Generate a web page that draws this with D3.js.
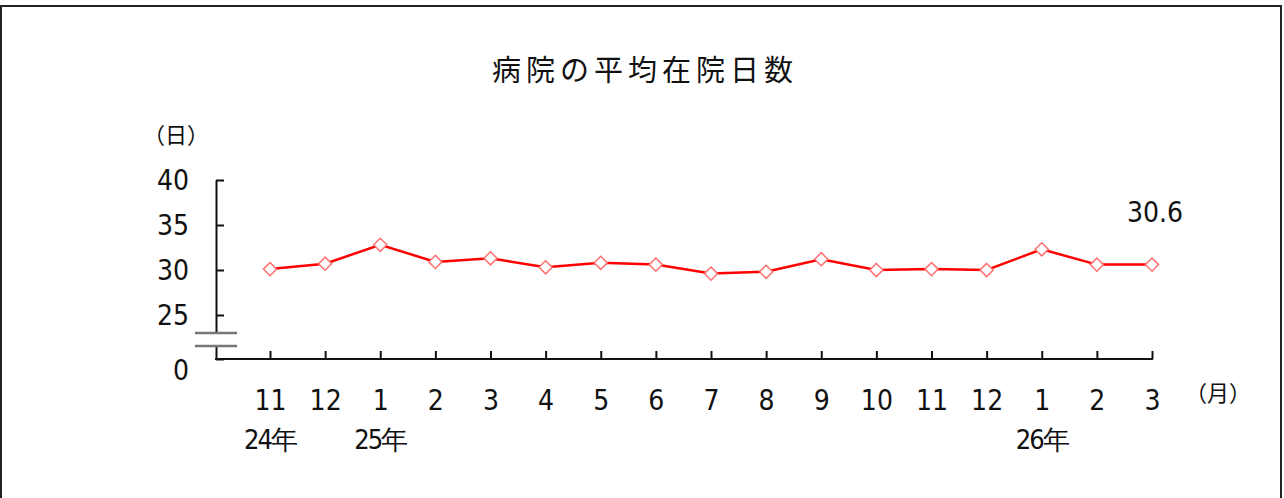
<!DOCTYPE html>
<html>
<head>
<meta charset="utf-8">
<script src="https://cdn.jsdelivr.net/npm/d3@7"></script>
<style>
  body { margin: 0; background: #fff; }
  .num { font-family: "Liberation Sans Narrow", "DejaVu Sans Condensed", "Liberation Sans", sans-serif; fill: #111; }
  .jp { font-family: "Noto Sans CJK JP", sans-serif; fill: #111; }
</style>
</head>
<body>
<svg id="chart" width="1284" height="498"></svg>
<script>
// data
var months = ["11", "12", "1", "2", "3", "4", "5", "6", "7", "8", "9", "10", "11", "12", "1", "2", "3"];
var years = ["24年", "", "25年", "", "", "", "", "", "", "", "", "", "", "", "26年", "", ""];
var days = [30.1, 30.7, 32.8, 30.9, 31.3, 30.3, 30.8, 30.6, 29.6, 29.8, 31.2, 30.0, 30.1, 30.0, 32.3, 30.6, 30.6];
var yTicks = [0, 25, 30, 35, 40];

var svg = d3.select("#chart");

// outer frame (bottom edge runs off the picture)
svg.append("rect")
    .attr("x", 1).attr("y", 6)
    .attr("width", 1280).attr("height", 520)
    .attr("fill", "none")
    .attr("stroke", "#222")
    .attr("stroke-width", 2);

var axisX0 = 216, axisY0 = 359;

var xScale = d3.scalePoint()
    .domain(d3.range(months.length))
    .range([270, 1152]);

// broken axis: 0 sits at the bottom, 25..40 is the real range
var yScale = d3.scaleLinear()
    .domain([0, 25, 40])
    .range([axisY0, 315, 180]);

// title
svg.append("text")
    .attr("class", "jp")
    .attr("x", 645).attr("y", 68)
    .attr("text-anchor", "middle")
    .attr("dominant-baseline", "central")
    .style("font-size", "29px")
    .style("letter-spacing", "5px")
    .text("病院の平均在院日数");

// unit labels
svg.append("text")
    .attr("class", "jp")
    .attr("x", 176).attr("y", 133)
    .attr("text-anchor", "middle")
    .attr("dominant-baseline", "central")
    .style("font-size", "22px")
    .text("（日）");

svg.append("text")
    .attr("class", "jp")
    .attr("x", 1218).attr("y", 391)
    .attr("text-anchor", "middle")
    .attr("dominant-baseline", "central")
    .style("font-size", "22px")
    .text("（月）");

// y axis
var gy = svg.append("g")
    .attr("transform", "translate(" + axisX0 + ",0)")
    .call(d3.axisLeft(yScale)
        .tickValues(yTicks)
        .tickSize(-8)
        .tickSizeOuter(0)
        .tickPadding(27)
        .tickFormat(d3.format("d")));
gy.select(".domain").attr("stroke", "#111").attr("stroke-width", 2);
gy.selectAll(".tick line").attr("stroke", "#111").attr("stroke-width", 2);
gy.selectAll(".tick text")
    .attr("class", "num")
    .attr("dy", function(d) { return d === 0 ? "0.72em" : "0.35em"; })
    .style("font-size", "28px");

// x axis
var gx = svg.append("g")
    .attr("transform", "translate(0," + axisY0 + ")")
    .call(d3.axisBottom(xScale)
        .tickSize(-8)
        .tickSizeOuter(0)
        .tickPadding(0)
        .tickFormat(function(i) { return months[i]; }));
gx.select(".domain").remove();
gx.append("line")
    .attr("x1", axisX0 - 1).attr("x2", xScale(months.length - 1) + 1)
    .attr("stroke", "#111").attr("stroke-width", 2);
gx.selectAll(".tick line").attr("stroke", "#111").attr("stroke-width", 2);
gx.selectAll(".tick text")
    .attr("class", "num")
    .attr("y", 41)
    .attr("dy", "0.35em")
    .style("font-size", "28px");

// year labels under the month labels
svg.selectAll(".year")
    .data(years)
    .enter()
    .append("text")
    .attr("class", "year num")
    .attr("x", function(d, i) { return xScale(i); })
    .attr("y", 439)
    .attr("text-anchor", "middle")
    .attr("dominant-baseline", "central")
    .style("font-size", "27px")
    .style("letter-spacing", "-2px")
    .text(function(d) { return d; });

// axis break mark
svg.append("rect")
    .attr("x", axisX0 - 3).attr("y", 334)
    .attr("width", 6).attr("height", 11)
    .attr("fill", "#fff");
svg.selectAll(".break")
    .data([333, 346])
    .enter()
    .append("line")
    .attr("x1", 195).attr("x2", 237)
    .attr("y1", function(d) { return d; })
    .attr("y2", function(d) { return d; })
    .attr("stroke", "#777")
    .attr("stroke-width", 2.5);

// series line
var line = d3.line()
    .x(function(d, i) { return xScale(i); })
    .y(function(d) { return yScale(d); });

svg.append("path")
    .datum(days)
    .attr("d", line)
    .attr("fill", "none")
    .attr("stroke", "#ff0000")
    .attr("stroke-width", 2.5);

svg.selectAll(".pt")
    .data(days)
    .enter()
    .append("path")
    .attr("class", "pt")
    .attr("d", d3.symbol().type(d3.symbolDiamond2).size(110))
    .attr("transform", function(d, i) { return "translate(" + xScale(i) + "," + yScale(d) + ")"; })
    .attr("fill", "#fff")
    .attr("stroke", "#ff7070")
    .attr("stroke-width", 1.5);

// value label on the latest point
var last = days.length - 1;
svg.append("text")
    .attr("class", "num")
    .attr("x", xScale(last) + 3)
    .attr("y", 212)
    .attr("text-anchor", "middle")
    .attr("dominant-baseline", "central")
    .style("font-size", "28px")
    .text(d3.format(".1f")(days[last]));
</script>
</body>
</html>
